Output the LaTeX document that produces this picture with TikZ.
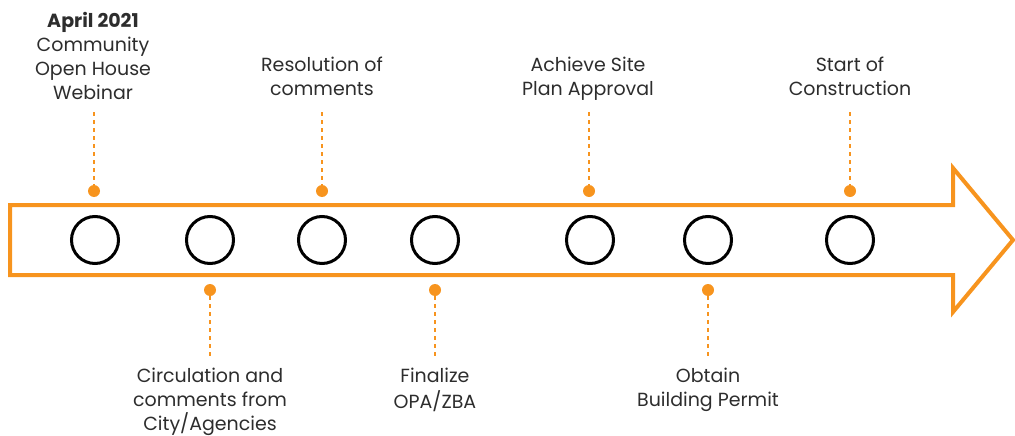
\documentclass[tikz,border=0pt]{standalone}
\usepackage{fontspec}
\setmainfont{Poppins}
\definecolor{org}{RGB}{247,148,30}
\definecolor{txt}{RGB}{45,45,45}
\begin{document}
\begin{tikzpicture}[x=1pt,y=-1pt,
  ms/.style={circle,draw=black,line width=3pt,minimum size=47pt,inner sep=0pt},
  dot/.style={circle,fill=org,minimum size=12pt,inner sep=0pt},
  lbl/.style={align=center,text=txt,inner sep=0pt,font=\fontsize{19}{24}\selectfont},
  lead/.style={draw=org,line width=2pt,dash pattern=on 4pt off 4pt}]
\useasboundingbox (0,0) rectangle (1015,436);
% arrow
\draw[org,line width=4pt,line join=miter]
  (10,205) -- (953,205) -- (953,168) -- (1013,240) -- (953,312) -- (953,275) -- (10,275) -- cycle;
% milestones
\foreach \n/\x in {m1/95,m2/210,m3/322,m4/435,m5/590,m6/708,m7/850}
  \node[ms] (\n) at (\x,240) {};
% dots
\node[dot] (d1) at (94,191) {};
\node[dot] (d3) at (322,191) {};
\node[dot] (d5) at (589,191) {};
\node[dot] (d7) at (850,191) {};
\node[dot] (d2) at (210,290) {};
\node[dot] (d4) at (435,290) {};
\node[dot] (d6) at (708,290) {};
% labels
\node[lbl,anchor=south] (t1) at (93,107) {\textbf{April 2021}\\Community\\Open House\\Webinar\strut};
\node[lbl,anchor=south] (t3) at (322,103) {Resolution of\\comments\strut};
\node[lbl,anchor=south] (t5) at (588,103) {Achieve Site\\Plan Approval\strut};
\node[lbl,anchor=south] (t7) at (850,103) {Start of\\Construction\strut};
\node[lbl,anchor=north] (t2) at (210,365) {\strut Circulation and\\comments from\\City/Agencies};
\node[lbl,anchor=north] (t4) at (435,365) {\strut Finalize\\OPA/ZBA};
\node[lbl,anchor=north] (t6) at (708,365) {\strut Obtain\\Building Permit};
% leaders
\draw[lead] (d1.center |- 0,112) -- (d1.north);
\draw[lead] (d3.center |- 0,112) -- (d3.north);
\draw[lead] (d5.center |- 0,112) -- (d5.north);
\draw[lead] (d7.center |- 0,112) -- (d7.north);
\draw[lead] (d2.south) -- (d2.center |- 0,360);
\draw[lead] (d4.south) -- (d4.center |- 0,360);
\draw[lead] (d6.south) -- (d6.center |- 0,360);
\end{tikzpicture}
\end{document}
